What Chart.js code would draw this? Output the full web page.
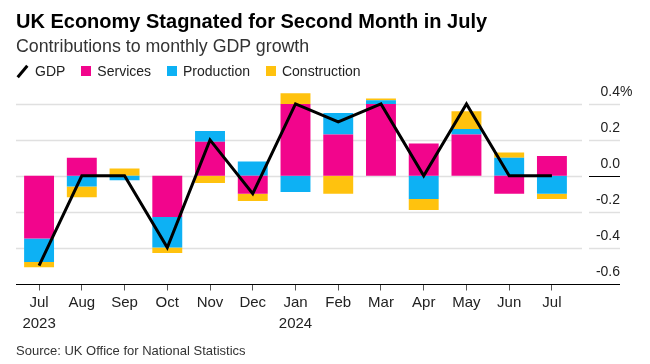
<!DOCTYPE html>
<html>
<head>
<meta charset="utf-8">
<script src="https://cdn.jsdelivr.net/npm/chart.js@4"></script>
<style>
  body { margin: 0; background: #fff; font-family: "Liberation Sans", Arial, sans-serif; }
  #wrap { position: relative; width: 650px; height: 364px; overflow: hidden; }
  #chart { position: absolute; left: 0; top: 0; }
  .title { position: absolute; left: 16px; top: 10px; font-size: 20px; font-weight: bold; color: #000; }
  .subtitle { position: absolute; left: 16px; top: 36px; font-size: 17.8px; color: #333; }
  .legend { position: absolute; left: 16px; top: 63px; font-size: 14px; color: #222; display: flex; align-items: center; }
  .legend span { display: inline-flex; align-items: center; margin-right: 16px; }
  .legend i { display: inline-block; width: 10px; height: 10px; margin-right: 6px; }
  .legend .slash { width: 12px; height: 12px; margin-right: 7px; background: none; position: relative; }
  .legend .slash:after { content: ""; position: absolute; left: 5px; top: -1px; width: 3px; height: 15px; background: #000; transform: rotate(40deg); }
  .source { position: absolute; left: 16px; top: 343px; font-size: 13px; color: #333; }
</style>
</head>
<body>
<div id="wrap">
  <canvas id="chart" width="650" height="364"></canvas>
  <div class="title">UK Economy Stagnated for Second Month in July</div>
  <div class="subtitle">Contributions to monthly GDP growth</div>
  <div class="legend">
    <span><i class="slash"></i>GDP</span>
    <span><i style="background:#f2058c"></i>Services</span>
    <span><i style="background:#0db1f4"></i>Production</span>
    <span><i style="background:#ffc20e"></i>Construction</span>
  </div>
  <div class="source">Source: UK Office for National Statistics</div>
</div>
<script>
const months = ['Jul', 'Aug', 'Sep', 'Oct', 'Nov', 'Dec', 'Jan', 'Feb', 'Mar', 'Apr', 'May', 'Jun', 'Jul'];
const years = ['2023', '', '', '', '', '', '2024', '', '', '', '', '', ''];
const services = [-0.35, 0.10, 0.0, -0.23, 0.19, -0.10, 0.40, 0.23, 0.40, 0.18, 0.23, -0.10, 0.11];
const production = [-0.13, -0.06, -0.025, -0.17, 0.06, 0.08, -0.09, 0.12, 0.02, -0.13, 0.03, 0.10, -0.10];
const construction = [-0.03, -0.06, 0.04, -0.03, -0.04, -0.04, 0.06, -0.10, 0.01, -0.06, 0.10, 0.03, -0.03];
const gdp = [-0.5, 0.0, 0.0, -0.4, 0.2, -0.1, 0.4, 0.3, 0.4, 0.0, 0.4, 0.0, 0.0];
const yTicks = [0.4, 0.2, 0.0, -0.2, -0.4, -0.6];

const font = '"Liberation Sans", Arial, sans-serif';

const gridPlugin = {
    id: 'grid',
    beforeDatasetsDraw(chart) {
        const y = chart.scales.y;
        const ctx = chart.ctx;
        ctx.save();
        yTicks.forEach(v => {
            const py = Math.round(y.getPixelForValue(v)) + 0.5;
            if (v === -0.6) return;
            ctx.strokeStyle = '#e0e0e0';
            ctx.lineWidth = 1.5;
            ctx.beginPath();
            ctx.moveTo(16, py);
            ctx.lineTo(582, py);
            ctx.stroke();
            ctx.strokeStyle = v === 0 ? '#000' : '#e0e0e0';
            ctx.lineWidth = v === 0 ? 1 : 1.5;
            ctx.beginPath();
            ctx.moveTo(589, py);
            ctx.lineTo(620, py);
            ctx.stroke();
        });
        ctx.restore();
    },
    afterDraw(chart) {
        const y = chart.scales.y;
        const ctx = chart.ctx;
        ctx.save();
        const base = Math.round(y.getPixelForValue(-0.6)) + 0.5;
        ctx.strokeStyle = '#000';
        ctx.lineWidth = 1;
        ctx.beginPath();
        ctx.moveTo(16, base);
        ctx.lineTo(620, base);
        ctx.stroke();
        ctx.font = '14px ' + font;
        ctx.fillStyle = '#222';
        ctx.textBaseline = 'alphabetic';
        yTicks.forEach(v => {
            const py = y.getPixelForValue(v) - 8;
            ctx.textAlign = 'right';
            ctx.fillText(v.toFixed(1), 620, py);
            if (v === 0.4) {
                ctx.textAlign = 'left';
                ctx.fillText('%', 620, py);
            }
        });
        ctx.restore();
    }
};

new Chart(document.getElementById('chart'), {
    data: {
        labels: months.map((m, i) => years[i] ? [m, years[i]] : m),
        datasets: [
            { type: 'line', label: 'GDP', data: gdp, borderColor: '#000', borderWidth: 3, pointRadius: 0, tension: 0, stack: 'gdp', order: 0 },
            { type: 'bar', label: 'Services', data: services, backgroundColor: '#f2058c', stack: 'c', order: 1 },
            { type: 'bar', label: 'Production', data: production, backgroundColor: '#0db1f4', stack: 'c', order: 1 },
            { type: 'bar', label: 'Construction', data: construction, backgroundColor: '#ffc20e', stack: 'c', order: 1 }
        ]
    },
    options: {
        responsive: false,
        animation: false,
        layout: { padding: { left: 17.7, right: 76.7, top: 86, bottom: 28 } },
        datasets: { bar: { categoryPercentage: 1, barPercentage: 0.7 } },
        plugins: { legend: { display: false }, tooltip: { enabled: false } },
        scales: {
            x: {
                stacked: true,
                border: { display: false },
                grid: { offset: false, drawOnChartArea: false, tickLength: 7, color: '#555', lineWidth: 1 },
                ticks: { color: '#222', font: { size: 15, family: font, lineHeight: 1.45 }, padding: 1, maxRotation: 0, autoSkip: false }
            },
            y: { display: false, stacked: true, min: -0.6, max: 0.5 }
        }
    },
    plugins: [gridPlugin]
});
</script>
</body>
</html>
